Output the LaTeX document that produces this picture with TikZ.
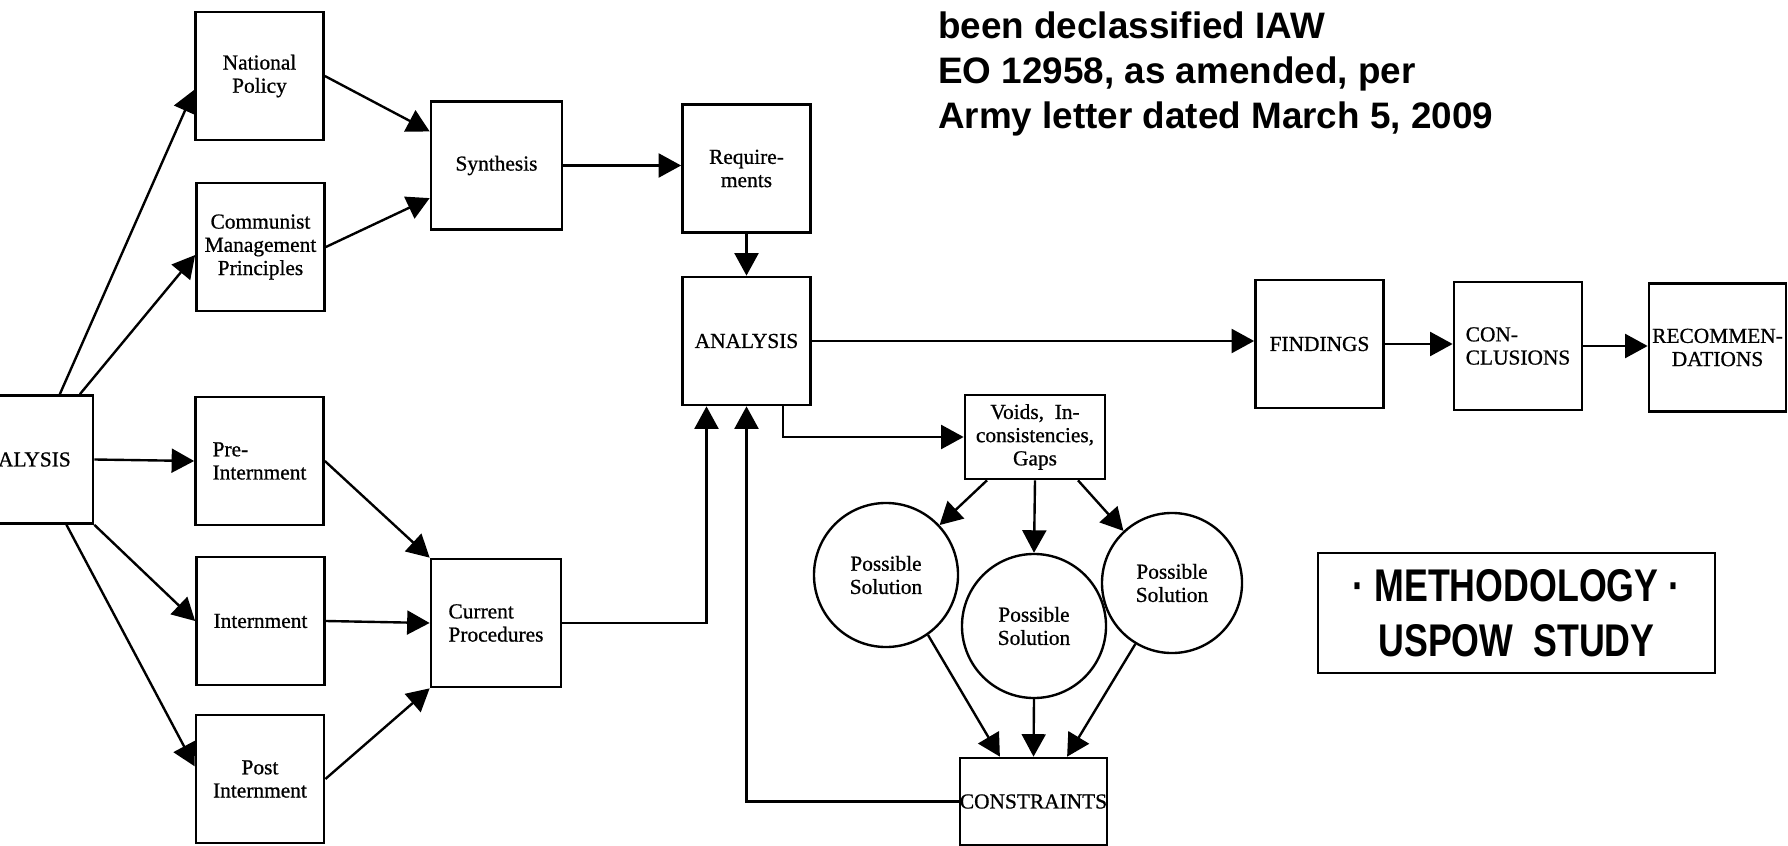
\documentclass[tikz,border=0pt]{standalone}
\usepackage{fontspec}
\setmainfont{Liberation Serif}[UprightFeatures={FakeBold=0.8}]
\newfontfamily\headfont{Liberation Sans}
\newfontfamily\methfont[FakeStretch=0.78]{Liberation Sans}
\usepackage{tikz}
\usetikzlibrary{arrows.meta,positioning,calc}

\tikzset{
  box/.style={draw, line width=1.9pt, minimum width=3.2cm, minimum height=3.2cm,
    inner sep=0pt, align=center, font=\fontsize{15.2}{16.5}\selectfont},
  sol/.style={draw, circle, line width=1.7pt, minimum size=3.6cm,
    inner sep=0pt, align=center, font=\fontsize{15.2}{16.5}\selectfont},
  arr/.style={line width=1.7pt, -{Triangle[length=16pt,width=17pt]}},
}

\begin{document}
\begin{tikzpicture}[x=0.025cm, y=-0.025cm]
    \useasboundingbox (0,0) rectangle (1788,846);

    % Declassification stamp
    \node [anchor=north west, align=left, inner sep=0pt,
      font=\headfont\bfseries\fontsize{26.2}{32}\selectfont] (declass) at (938,12)
      {been declassified IAW\\EO 12958, as amended, per\\Army letter dated March 5, 2009};

    % Input side
    \node [box, minimum width=3.7cm] (leftana) at (19,459.5) {ANALYSIS};
    \node [box] (natpol) at (259.5,76) {National\\Policy};
    \node [box] (commun) at (260.5,247) {Communist\\Management\\Principles};
    \node [box, align=left] (preint) at (259.5,461) {Pre-\\Internment};
    \node [box] (intern) at (260.5,621) {Internment};
    \node [box] (postint) at (260,779) {Post\\Internment};

    % Synthesis and procedures
    \node [box, minimum width=3.275cm] (synth) at (496.5,165.5) {Synthesis};
    \node [box, minimum width=3.25cm, align=left] (curproc) at (496,623) {Current\\Procedures};

    % Analysis column
    \node [box] (requir) at (746.5,168.5) {Require-\\ments};
    \node [box] (analysis) at (746.5,341) {ANALYSIS};

    % Output side
    \node [box] (findings) at (1319.5,344) {FINDINGS};
    \node [box, align=left] (concl) at (1518,346) {CON-\\CLUSIONS};
    \node [box, minimum width=3.425cm] (recomm) at (1717.5,347.5) {RECOMMEN-\\DATIONS};

    % Voids and solutions
    \node [box, minimum width=3.5cm, minimum height=2.1cm] (voids) at (1035,437)
      {Voids, \ In-\\consistencies,\\Gaps};
    \node [sol] (sol1) at (886,575) {Possible\\Solution};
    \node [sol] (sol2) at (1034,626) {Possible\\Solution};
    \node [sol, minimum size=3.5cm] (sol3) at (1172,583) {Possible\\Solution};
    \node [box, minimum width=3.525cm, minimum height=2.175cm] (constr) at (1033.5,801.5)
      {CONSTRAINTS};

    % Title box
    \node [draw, line width=1.6pt, minimum width=9.925cm, minimum height=3cm,
      inner sep=0pt, align=center,
      font=\methfont\bfseries\fontsize{32.6}{39}\selectfont] (method) at (1516.5,613)
      {· METHODOLOGY ·\\USPOW\ \ STUDY};

    % Arrows out of the left analysis
    \draw [arr] (leftana.58) -- (natpol.192);
    \draw [arr] (leftana.47) -- (commun.187);
    \draw [arr] (leftana.east) -- (preint.west);
    \draw [arr] (leftana.south east) -- (intern.west);
    \draw [arr] (leftana.306) -- (postint.169);

    % Into synthesis and requirements
    \draw [arr] (natpol.east) -- (synth.153);
    \draw [arr] (commun.east) -- (synth.206);
    \draw [arr] (synth.east) -- (synth.east -| requir.west);
    \draw [arr] (requir.south) -- (analysis.north);

    % Into current procedures
    \draw [arr] (preint.east) -- (curproc.north west);
    \draw [arr] (intern.east) -- (curproc.west);
    \draw [arr] (postint.east) -- (curproc.south west);

    % Back into analysis
    \draw [arr] (curproc.east) -| ([xshift=-1cm]analysis.south);
    \draw [arr] (constr.west) -| (analysis.south);
    \draw [arr] ([xshift=0.91cm]analysis.south) |- (voids.west);

    % Main line
    \draw [arr] (analysis.east) -- (analysis.east -| findings.west);
    \draw [arr] (findings.east) -- (findings.east -| concl.west);
    \draw [arr] (concl.east) -- (concl.east -| recomm.west);

    % Voids to solutions to constraints
    \draw [arr] ([xshift=-1.2cm]voids.south) -- (sol1.43);
    \draw [arr] (voids.south) -- (sol2.north);
    \draw [arr] ([xshift=1.075cm]voids.south) -- (sol3.133);
    \draw [arr] (sol1.305) -- ([xshift=-0.84cm]constr.north);
    \draw [arr] (sol2.south) -- (constr.north);
    \draw [arr] (sol3.239) -- ([xshift=0.84cm]constr.north);

\end{tikzpicture}
\end{document}
